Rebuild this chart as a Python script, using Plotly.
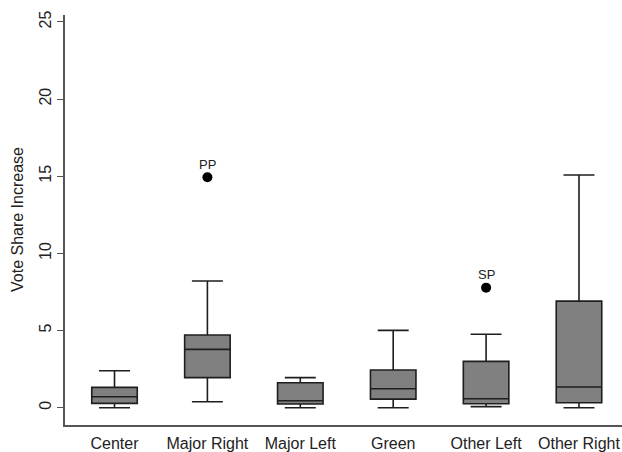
import plotly.graph_objects as go

categories = ["Center", "Major Right", "Major Left", "Green", "Other Left", "Other Right"]
lower_whisker = [0.0, 0.39, 0.0, 0.0, 0.07, 0.0]
q1_vals = [0.28, 1.95, 0.24, 0.56, 0.26, 0.32]
median_vals = [0.71, 3.78, 0.45, 1.23, 0.58, 1.34]
q3_vals = [1.32, 4.71, 1.62, 2.44, 3.0, 6.91]
upper_whisker = [2.40, 8.21, 1.95, 5.01, 4.76, 15.08]

outlier_cats = ["Major Right", "Other Left"]
outlier_vals = [14.93, 7.78]
outlier_labels = ["PP", "SP"]

y_ticks = [0, 5, 10, 15, 20, 25]

fig = go.Figure()
for i, c in enumerate(categories):
    fig.add_trace(go.Box(
        x=[c], q1=[q1_vals[i]], median=[median_vals[i]], q3=[q3_vals[i]],
        lowerfence=[lower_whisker[i]], upperfence=[upper_whisker[i]],
        fillcolor="#808080", line=dict(color="#1e1e1e", width=1.6),
        width=0.49, whiskerwidth=0.68, boxpoints=False, showlegend=False,
        hoverinfo="skip",
    ))

fig.add_trace(go.Scatter(
    x=outlier_cats, y=outlier_vals, mode="markers",
    marker=dict(size=10, color="black"), showlegend=False, cliponaxis=False,
    hoverinfo="skip",
))

for c, v, lab in zip(outlier_cats, outlier_vals, outlier_labels):
    fig.add_annotation(
        x=c, y=v, text=lab, showarrow=False, yshift=13,
        xanchor="center", yanchor="middle",
        font=dict(size=13, color="#222"),
    )

fig.add_annotation(
    text="Vote Share Increase", xref="paper", yref="paper", x=0, y=0.5,
    xshift=-48, textangle=-90, showarrow=False, xanchor="center", yanchor="middle",
    font=dict(size=16, color="#222"),
)

fig.update_layout(
    width=622, height=452,
    margin=dict(l=65, r=0, t=15, b=27),
    plot_bgcolor="white", paper_bgcolor="white",
    font=dict(family="Liberation Sans, Arial", size=16, color="#222"),
    hovermode=False,
    xaxis=dict(
        type="category", categoryorder="array", categoryarray=categories,
        range=[-0.533, 5.463], showgrid=False, zeroline=False,
        showline=True, linecolor="#555", linewidth=1.5,
        ticks="outside", ticklen=3, tickcolor="rgba(0,0,0,0)",
        tickfont=dict(size=16), fixedrange=True, automargin=False,
    ),
    yaxis=dict(
        range=[-1.12, 25.45], tickvals=y_ticks, ticktext=[str(v) for v in y_ticks],
        tickangle=-90, showgrid=False, zeroline=False,
        showline=True, linecolor="#555", linewidth=1.5,
        ticks="outside", ticklen=6, tickcolor="#555", tickwidth=1.2,
        tickfont=dict(size=16), automargin=False, fixedrange=True,
    ),
)

fig.write_html(
    "out.html",
    config={"displayModeBar": False},
    post_script="document.body.style.margin='0';document.body.style.overflow='hidden';",
)
